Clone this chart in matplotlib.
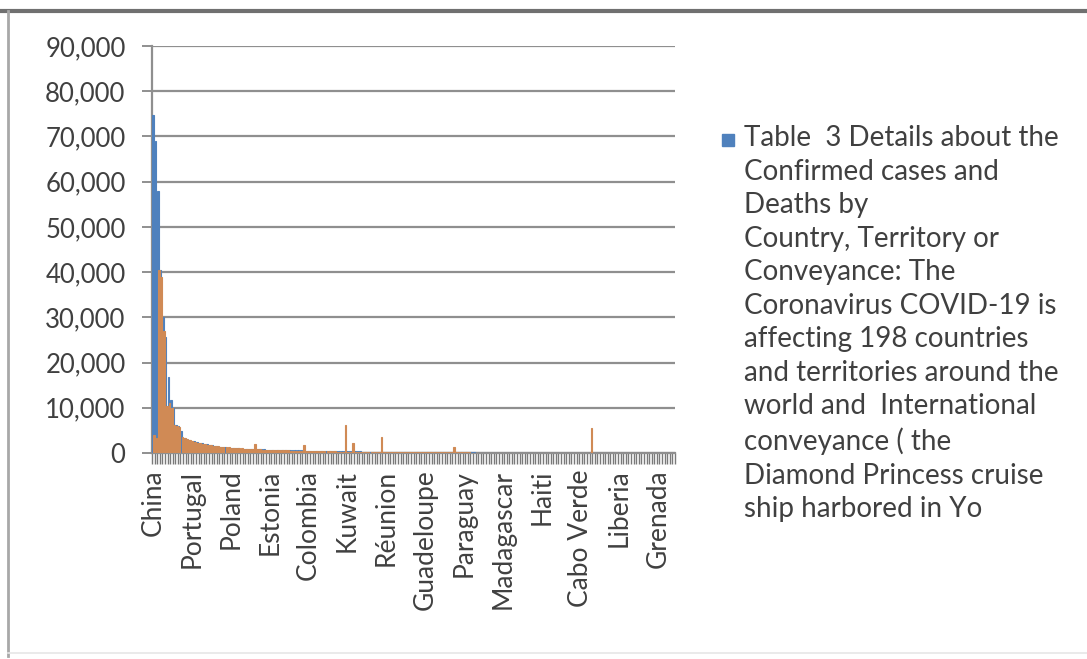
import numpy as np
import matplotlib
matplotlib.use("Agg")
import matplotlib.pyplot as plt
from matplotlib.patches import Rectangle
from matplotlib.lines import Line2D
from matplotlib.ticker import FuncFormatter, FixedLocator

plt.rcParams['font.family'] = ['Lato', 'DejaVu Sans']

# confirmed cases per country (202 rows, sorted descending)
confirmed = [
    74800, 68900, 58000, 40500, 30000, 25700, 16800, 11700, 10000, 6200,
    5900, 4800, 3300, 3100, 2900, 2700, 2600, 2500, 2300, 2200,
    2100, 1900, 1800, 1700, 1600, 1500, 1400, 1300, 1250, 1200,
    1150, 1100, 1050, 1000, 980, 950, 920, 900, 880, 860,
    840, 820, 800, 780, 760, 740, 720, 700, 690, 680,
    660, 650, 640, 620, 600, 590, 580, 570, 560, 550,
    540, 530, 520, 510, 500, 490, 480, 470, 460, 450,
    440, 430, 420, 410, 400, 390, 380, 370, 360, 350,
    340, 330, 320, 310, 300, 295, 290, 280, 270, 265,
    260, 250, 245, 240, 230, 225, 220, 215, 210, 205,
    200, 195, 190, 185, 180, 175, 170, 165, 160, 158,
    155, 150, 148, 145, 140, 138, 135, 130, 128, 125,
    122, 120, 118, 115, 112, 110, 108, 105, 102, 100,
    98, 95, 92, 90, 88, 85, 82, 80, 78, 75,
    72, 70, 68, 65, 62, 60, 58, 55, 52, 50,
    48, 46, 44, 42, 40, 38, 36, 34, 32, 30,
    29, 28, 27, 26, 25, 24, 23, 22, 21, 20,
    19, 18, 17, 16, 15, 14, 13, 12, 11, 10,
    10, 9, 9, 8, 8, 7, 7, 6, 6, 5,
    5, 4, 4, 3, 3, 3, 2, 2, 2, 1,
    1, 1,
]

# second column of the table (deaths / other counts)
second = [
    4000, 3300, 40500, 39000, 27000, 10500, 11000, 10000, 6200, 6000,
    5800, 3500, 3300, 3100, 2900, 2700, 2500, 2300, 2200, 2100,
    1900, 1800, 1700, 1600, 1500, 1450, 1400, 1350, 1300, 1250,
    1200, 1150, 1100, 1050, 1000, 950, 900, 850, 820, 2000,
    800, 780, 760, 740, 720, 700, 680, 660, 640, 620,
    600, 580, 560, 540, 520, 500, 480, 470, 1800, 450,
    440, 430, 420, 410, 400, 390, 380, 370, 360, 350,
    340, 330, 320, 310, 6200, 300, 290, 2300, 280, 270,
    260, 250, 245, 240, 235, 230, 225, 220, 3500, 215,
    210, 205, 200, 195, 190, 185, 180, 175, 170, 165,
    160, 158, 155, 152, 150, 148, 145, 142, 140, 138,
    135, 132, 130, 128, 126, 124, 1400, 122, 120, 118,
    116, 114, 112, 110, 108, 106, 104, 102, 100, 98,
    96, 94, 92, 90, 88, 86, 84, 82, 80, 78,
    76, 74, 72, 70, 68, 66, 64, 62, 60, 58,
    56, 54, 52, 50, 48, 46, 44, 42, 40, 38,
    36, 34, 32, 30, 28, 26, 24, 22, 20, 5500,
    18, 17, 16, 15, 14, 13, 12, 11, 10, 9,
    9, 8, 8, 7, 7, 6, 6, 5, 5, 4,
    4, 4, 3, 3, 3, 2, 2, 2, 1, 1,
    1, 1,
]

# every 15th country gets a label on the axis
label_names = ['China', 'Portugal', 'Poland', 'Estonia', 'Colombia', 'Kuwait',
               'Réunion', 'Guadeloupe', 'Paraguay', 'Madagascar', 'Haiti',
               'Cabo Verde', 'Liberia', 'Grenada']
label_step = 15

legend_text = ("Table  3 Details about the\nConfirmed cases and\nDeaths by\n"
               "Country, Territory or\nConveyance: The\nCoronavirus COVID-19 is\n"
               "affecting 198 countries\nand territories around the\n"
               "world and  International\nconveyance ( the\n"
               "Diamond Princess cruise\nship harbored in Yo")

blue = '#4F81BD'
tan = '#D08A55'
grid_c = '#8f8f8f'
text_c = '#404040'

n = len(confirmed)
x = np.arange(n)

fig = plt.figure(figsize=(10.87, 6.59), dpi=100)
ax = fig.add_axes([152 / 1087, 1 - 453 / 659, 523 / 1087, 407 / 659])

ax.bar(x - 0.2, confirmed, width=0.6, color=blue, linewidth=0.8, edgecolor=blue, zorder=3)
ax.bar(x + 0.2, second, width=0.6, color=tan, linewidth=0.8, edgecolor=tan, zorder=3)

ax.set_xlim(-0.5, n - 0.5)
ax.set_ylim(0, 90000)
ax.yaxis.set_major_locator(FixedLocator(np.arange(0, 90001, 10000)))
ax.yaxis.set_major_formatter(FuncFormatter(lambda v, p: f'{int(v):,}'))
ax.yaxis.grid(True, color=grid_c, linewidth=1.6, zorder=0)
ax.set_axisbelow(True)

ax.set_xticks(np.arange(0, len(label_names) * label_step, label_step))
ax.set_xticklabels(label_names, rotation=90, va='top', ha='center')
ax.set_xticks(np.arange(n + 1) - 0.5, minor=True)
ax.tick_params(axis='x', which='major', length=0, pad=12, labelsize=19, labelcolor=text_c)
ax.tick_params(axis='x', which='minor', length=8, color='#7a7a7a', width=1.0)
ax.tick_params(axis='y', length=7, color=grid_c, width=1.4, pad=12, labelsize=18.5, labelcolor=text_c)

for s in ['top', 'right']:
    ax.spines[s].set_visible(False)
for s in ['left', 'bottom']:
    ax.spines[s].set_color(grid_c)
    ax.spines[s].set_linewidth(1.6)

# legend drawn by hand so the marker sits on the first line
fig.add_artist(Rectangle((722 / 1087, 1 - 146 / 659), 12 / 1087, 12 / 659,
                         transform=fig.transFigure, color=blue))
fig.text(744 / 1087, 1 - 125 / 659, legend_text, fontsize=20, color=text_c,
         va='top', ha='left', linespacing=1.36)

# chart frame
fig.add_artist(Line2D([0, 1], [1 - 11 / 659, 1 - 11 / 659], transform=fig.transFigure,
                      color='#707070', linewidth=3))
fig.add_artist(Line2D([8 / 1087, 8 / 1087], [0.005, 1 - 11 / 659], transform=fig.transFigure,
                      color='#a8a8a8', linewidth=2))
fig.add_artist(Line2D([8 / 1087, 1], [1 - 653 / 659, 1 - 653 / 659], transform=fig.transFigure,
                      color='#e6e6e6', linewidth=1.2))

fig.savefig('out.png', dpi=100)
